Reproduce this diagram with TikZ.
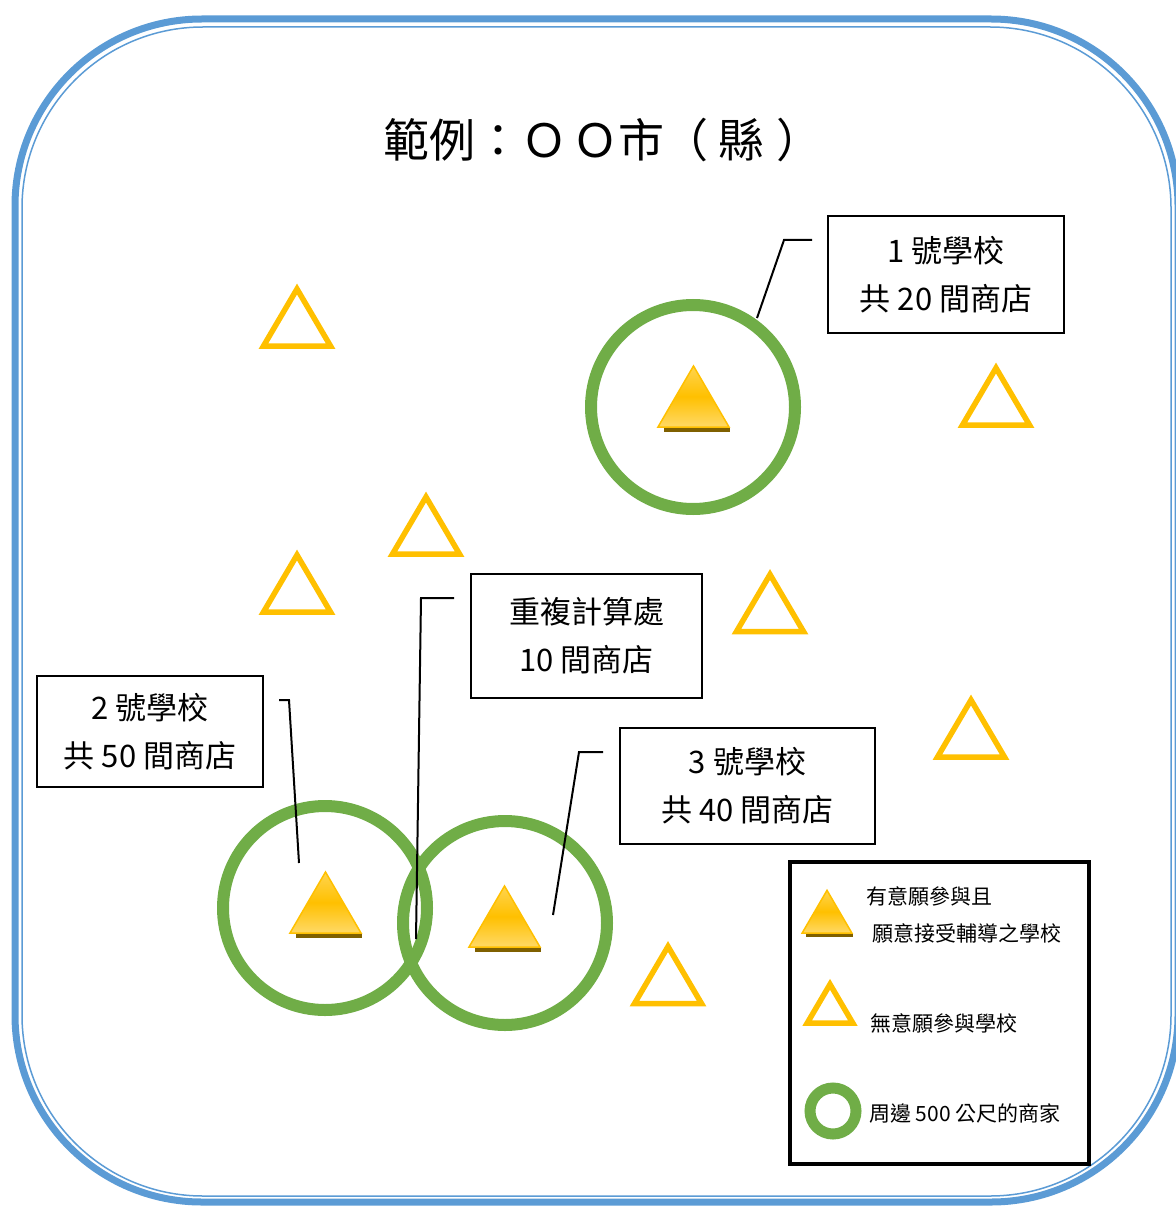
\documentclass[tikz,border=0pt]{standalone}
\usepackage{fontspec}
\setmainfont{Noto Sans CJK TC}
\definecolor{frameblue}{HTML}{5B9BD5}
\definecolor{ringgreen}{HTML}{70AD47}
\definecolor{gold}{HTML}{FFC000}
\definecolor{goldlight}{HTML}{FFD966}
\definecolor{goldtop}{HTML}{FFD44F}
\definecolor{shadowbrown}{HTML}{7F6000}
\begin{document}
\begin{tikzpicture}[x=1pt,y=-1pt,
  ring/.style={circle, draw=ringgreen, line width=12pt, inner sep=0pt, minimum size=204pt},
  infobox/.style={draw=black, line width=1.8pt, inner sep=0pt, align=center, font=\fontsize{31}{48}\selectfont},
  callout/.style={draw=black, line width=2pt},
  legendtext/.style={anchor=west, inner sep=0pt, font=\fontsize{21}{25}\selectfont},
  hollowtri/.pic={\draw[gold, line width=5.5pt, miter limit=10] (0,-27.5) -- (33.5,29.5) -- (-33.5,29.5) -- cycle;},
  filledtri/.pic={
    \fill[shadowbrown] (-30,0) rectangle (36.5,5);
    \shade[top color=goldtop, bottom color=goldlight, middle color=gold] (0,-61) -- (35.5,0) -- (-35.5,0) -- cycle;
    \draw[gold, line width=1.5pt, line join=miter] (0,-61) -- (35.5,0) -- (-35.5,0) -- cycle;}
]
\useasboundingbox (0,0) rectangle (1175,1206);
% frame
\draw[frameblue, line width=7pt, rounded corners=187pt] (15,19) rectangle (1178,1202);
\draw[frameblue, line width=1.5pt, rounded corners=181pt] (22,27) rectangle (1171,1196);

% title
\node[font=\fontsize{46}{50}\selectfont, inner sep=0pt] (title) at (603,140) {範例：Ｏ\hspace{5pt}Ｏ市\hspace{-2pt}（\hspace{10pt}縣\hspace{12pt}）};

% rings
\node[ring] (c1) at (693,407) {};
\node[ring] (c2) at (325,908) {};
\node[ring] (c3) at (505,923) {};

% participating schools
\pic at (693.5,427) {filledtri};
\pic at (325.5,933) {filledtri};
\pic at (504.5,947) {filledtri};

% non-participating schools
\pic at (297,316.5) {hollowtri};
\pic at (996,395.5) {hollowtri};
\pic at (426,524.5) {hollowtri};
\pic at (297,582.5) {hollowtri};
\pic at (770,602) {hollowtri};
\pic at (971,727.5) {hollowtri};
\pic at (668,974) {hollowtri};

% boxes
\node[infobox, minimum width=236pt, minimum height=117pt] (b1) at (946,274.5) {1 號學校\\共 20 間商店};
\node[infobox, minimum width=231pt, minimum height=124pt] (b2) at (586.5,636) {重複計算處\\10 間商店};
\node[infobox, minimum width=226pt, minimum height=111pt] (b3) at (150,731.5) {2 號學校\\共 50 間商店};
\node[infobox, minimum width=255pt, minimum height=116pt] (b4) at (747.5,786) {3 號學校\\共 40 間商店};

% callouts
\coordinate (k1a) at (757,318); \coordinate (k1b) at (784,240); \coordinate (k1c) at (812,240);
\draw[callout] (k1a) -- (k1b) -- (k1c);
\coordinate (k2a) at (299,863); \coordinate (k2b) at (289,700); \coordinate (k2c) at (279,700);
\draw[callout] (k2a) -- (k2b) -- (k2c);
\coordinate (k3a) at (416,939); \coordinate (k3b) at (421,598); \coordinate (k3c) at (454,598);
\draw[callout] (k3a) -- (k3b) -- (k3c);
\coordinate (k4a) at (553,915); \coordinate (k4b) at (579,752); \coordinate (k4c) at (603,752);
\draw[callout] (k4a) -- (k4b) -- (k4c);

% legend
\node[draw=black, line width=4pt, minimum width=299pt, minimum height=302pt, inner sep=0pt] (legend) at (939.5,1013) {};
\pic[scale=0.7] at (827,933) {filledtri};
\pic[scale=0.68] at (830,1003) {hollowtri};
\node[circle, draw=ringgreen, line width=11pt, minimum size=46pt, inner sep=0pt] (lring) at (833,1111) {};
\node[legendtext] (l1) at (866,896) {有意願參與且};
\node[legendtext] (l2) at (872,933) {願意接受輔導之學校};
\node[legendtext] (l3) at (870,1023) {無意願參與學校};
\node[legendtext] (l4) at (869,1113) {周邊 500 公尺的商家};
\end{tikzpicture}
\end{document}
